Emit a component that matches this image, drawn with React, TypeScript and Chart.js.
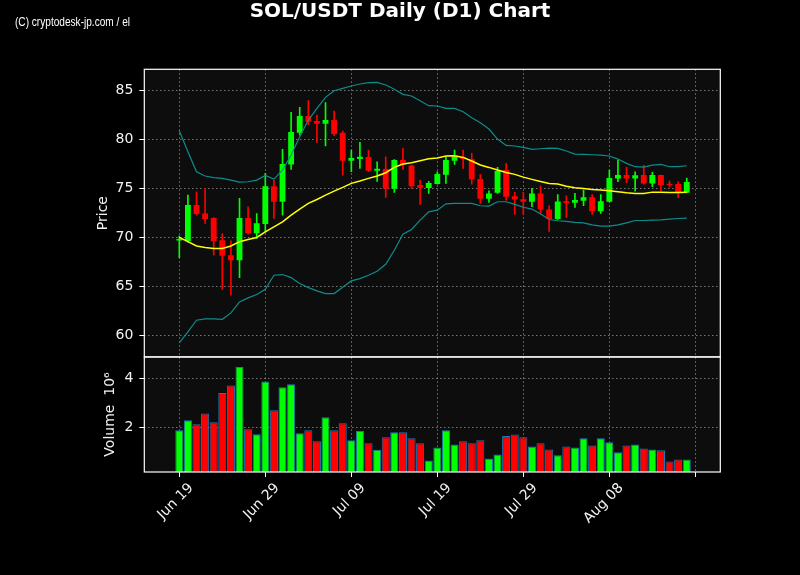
import { useEffect, useRef } from 'react';
import { Chart, registerables } from 'chart.js';

Chart.register(...registerables);

const TITLE = 'SOL/USDT Daily (D1) Chart';
const CREDIT = '(C) cryptodesk-jp.com / el';

// one tick every 10 days, starting Jun 19 (day 0); the last tick has no label
const TICK_LABELS = ['Jun 19', 'Jun 29', 'Jul 09', 'Jul 19', 'Jul 29', 'Aug 08', ''];

// daily candles Jun 19 .. Aug 17
const OPEN = [
  69.65, 69.59, 73.27, 72.41, 71.94, 69.69, 68.16, 67.65, 71.94, 70.41,
  71.33, 75.2, 73.61, 77.4, 80.65, 82.35, 81.84, 81.56, 81.94, 80.65,
  77.79, 77.96, 78.16, 76.77, 76.94, 74.93, 77.86, 77.31, 75.31, 75.0,
  75.41, 76.36, 77.79, 78.2, 77.93, 75.92, 73.91, 74.52, 76.84, 74.18,
  73.87, 73.61, 74.46, 72.82, 71.84, 73.67, 73.5, 73.71, 74.08, 72.65,
  73.61, 75.99, 76.33, 75.99, 76.33, 75.48, 76.33, 75.44, 75.41, 74.52,
];
const HIGH = [
  70.1, 74.29, 74.63, 74.97, 72.0, 70.37, 69.63, 73.95, 73.1, 72.41,
  76.5, 75.82, 78.95, 82.72, 83.23, 83.91, 82.45, 83.71, 82.86, 80.8,
  78.88, 79.66, 78.88, 77.69, 78.2, 77.9, 79.05, 77.35, 75.82, 75.7,
  76.67, 78.2, 78.88, 78.88, 78.54, 76.4, 74.73, 77.11, 77.52, 74.56,
  74.56, 74.97, 75.24, 73.2, 74.35, 74.22, 74.46, 74.8, 74.35, 74.35,
  76.84, 77.86, 77.11, 76.67, 77.31, 76.6, 76.33, 75.72, 75.65, 76.02,
];
const LOW = [
  67.9, 69.5, 72.24, 71.39, 68.16, 64.66, 64.08, 65.88, 70.3, 69.86,
  70.54, 71.9, 72.24, 76.9, 80.4, 81.43, 79.66, 79.29, 80.34, 76.33,
  76.67, 77.0, 76.67, 75.68, 74.05, 74.56, 76.9, 74.97, 73.34, 74.46,
  75.4, 75.48, 77.41, 77.0, 75.41, 73.44, 73.54, 74.46, 73.78, 72.31,
  72.31, 73.1, 72.41, 70.58, 71.8, 72.0, 73.03, 73.2, 72.31, 72.41,
  73.6, 75.65, 75.55, 74.69, 75.41, 75.14, 74.73, 75.1, 74.02, 74.5,
];
const CLOSE = [
  69.8, 73.27, 72.35, 71.84, 69.59, 68.1, 67.65, 71.94, 70.41, 71.43,
  75.2, 73.61, 77.45, 80.71, 82.35, 81.77, 81.56, 81.94, 80.51, 77.79,
  78.06, 78.2, 76.77, 76.97, 74.93, 77.86, 77.38, 75.2, 75.03, 75.51,
  76.43, 77.86, 78.2, 77.93, 75.89, 73.91, 74.46, 76.74, 74.12, 73.84,
  73.61, 74.46, 72.82, 71.84, 73.64, 73.47, 73.78, 74.08, 72.65, 73.67,
  76.02, 76.33, 75.99, 76.3, 75.48, 76.33, 75.31, 75.31, 74.59, 75.61,
];
// volume in millions
const VOLUME = [
  1.88, 2.28, 2.12, 2.56, 2.2, 3.39, 3.7, 4.45, 1.92, 1.72,
  3.86, 2.69, 3.63, 3.75, 1.76, 1.88, 1.43, 2.41, 1.88, 2.16,
  1.47, 1.86, 1.35, 1.09, 1.59, 1.8, 1.8, 1.55, 1.35, 0.65,
  1.18, 1.88, 1.3, 1.43, 1.35, 1.47, 0.73, 0.89, 1.64, 1.71,
  1.59, 1.22, 1.35, 1.1, 0.86, 1.22, 1.18, 1.55, 1.26, 1.55,
  1.39, 0.98, 1.26, 1.3, 1.14, 1.1, 1.06, 0.61, 0.69, 0.69,
];
const SMA = [
  69.97, 69.54, 69.1, 68.95, 68.85, 68.85, 69.1, 69.54, 69.76, 69.97,
  70.54, 71.05, 71.56, 72.24, 72.86, 73.44, 73.84, 74.29, 74.69, 75.07,
  75.48, 75.72, 75.99, 76.23, 76.57, 77.11, 77.45, 77.59, 77.79, 77.99,
  78.06, 78.27, 78.3, 78.13, 77.76, 77.35, 77.11, 76.84, 76.6, 76.4,
  76.12, 75.89, 75.68, 75.48, 75.41, 75.2, 75.03, 74.97, 74.86, 74.8,
  74.73, 74.63, 74.52, 74.46, 74.46, 74.59, 74.59, 74.56, 74.56, 74.59,
];
const BB_UPPER = [
  80.85, 78.71, 76.67, 76.23, 76.06, 75.99, 75.82, 75.61, 75.65, 75.82,
  76.3, 75.92, 76.84, 78.37, 80.24, 81.94, 83.13, 84.25, 84.93, 85.17,
  85.41, 85.61, 85.75, 85.78, 85.51, 85.07, 84.56, 84.39, 83.91, 83.4,
  83.37, 83.13, 83.13, 82.79, 82.18, 81.67, 81.02, 80.0, 79.35, 79.29,
  79.15, 78.95, 79.01, 79.08, 79.05, 78.78, 78.47, 78.44, 78.4, 78.37,
  78.27, 77.96, 77.52, 77.18, 77.14, 77.35, 77.41, 77.18, 77.18, 77.28,
];
const BB_LOWER = [
  59.22, 60.34, 61.53, 61.67, 61.67, 61.63, 62.28, 63.4, 63.81, 64.15,
  64.69, 66.12, 66.19, 65.88, 65.27, 64.86, 64.52, 64.25, 64.25, 64.9,
  65.54, 65.78, 66.12, 66.53, 67.24, 68.67, 70.3, 70.78, 71.73, 72.58,
  72.75, 73.4, 73.44, 73.44, 73.44, 73.2, 73.17, 73.61, 73.61, 73.34,
  73.05, 72.86, 72.35, 71.8, 71.67, 71.6, 71.5, 71.46, 71.26, 71.12,
  71.12, 71.26, 71.46, 71.7, 71.7, 71.73, 71.77, 71.84, 71.9, 71.94,
];

const PRICE_TICKS = [60, 65, 70, 75, 80, 85];
const VOLUME_TICKS = [2, 4];
const DAY_TICKS = [0, 10, 20, 30, 40, 50, 60];

const UP = '#00ff00';
const DOWN = '#ff0000';
const BAND = '#0e8c8c';
const GRID = 'rgba(190,190,190,0.75)';
const TEXT = '#f2f2f2';

Chart.defaults.font.family = '"DejaVu Sans", sans-serif';

const gridOpts = {
  color: GRID,
  lineWidth: 0.8,
  drawTicks: true,
  tickLength: 5,
  tickColor: '#ffffff',
  tickWidth: 1,
  tickBorderDash: [],
  offset: false,
};

const panels = {
  id: 'panels',
  beforeDraw(chart: Chart) {
    const { ctx, chartArea } = chart;
    ctx.save();
    ctx.fillStyle = '#000';
    ctx.fillRect(0, 0, chart.width, chart.height);
    ctx.fillStyle = '#0d0d0d';
    ctx.fillRect(chartArea.left, chartArea.top, chartArea.width, chartArea.height);
    ctx.restore();
  },
  afterDraw(chart: Chart) {
    const { ctx, chartArea, scales } = chart;
    ctx.save();
    ctx.strokeStyle = '#ffffff';
    ctx.lineWidth = 1.2;
    ctx.setLineDash([]);
    for (const id of ['y', 'yv']) {
      const s = scales[id];
      ctx.strokeRect(chartArea.left, s.top, chartArea.width, s.bottom - s.top);
    }
    ctx.fillStyle = '#ffffff';
    ctx.textAlign = 'center';
    ctx.textBaseline = 'alphabetic';
    ctx.font = 'bold 20px "DejaVu Sans"';
    ctx.fillText(TITLE, 400, 17);
    ctx.textAlign = 'left';
    ctx.font = '12px "Liberation Sans"';
    ctx.fillText(CREDIT, 15, 25.5, 115);
    ctx.restore();
  },
};

export default function App() {
  const canvasRef = useRef<HTMLCanvasElement>(null);

  useEffect(() => {
    if (!canvasRef.current) return;
    const days = OPEN.map((_, i) => i);
    const colors = days.map((i) => (CLOSE[i] >= OPEN[i] ? UP : DOWN));
    const line = (data: number[], color: string, width: number) => ({
      type: 'line' as const,
      data: days.map((i) => ({ x: i, y: data[i] })),
      borderColor: color,
      borderWidth: width,
      pointRadius: 0,
      tension: 0,
      yAxisID: 'y',
      order: 0,
    });

    const chart = new Chart(canvasRef.current, {
      type: 'bar',
      data: {
        datasets: [
          line(SMA, '#ffff00', 1.5),
          line(BB_UPPER, BAND, 1.2),
          line(BB_LOWER, BAND, 1.2),
          {
            type: 'bar',
            data: days.map((i) => ({ x: i, y: [LOW[i], HIGH[i]] })),
            backgroundColor: colors,
            barThickness: 1,
            grouped: false,
            yAxisID: 'y',
            order: 2,
          },
          {
            type: 'bar',
            data: days.map((i) => ({ x: i, y: [OPEN[i], CLOSE[i]] })),
            backgroundColor: colors,
            barPercentage: 0.85,
            categoryPercentage: 0.8,
            minBarLength: 1,
            grouped: false,
            yAxisID: 'y',
            order: 1,
          },
          {
            type: 'bar',
            data: days.map((i) => ({ x: i, y: VOLUME[i] })),
            backgroundColor: colors,
            borderColor: '#1f77b4',
            borderWidth: 1,
            barPercentage: 1,
            categoryPercentage: 0.94,
            grouped: false,
            yAxisID: 'yv',
            order: 1,
          },
        ] as any,
      },
      options: {
        responsive: false,
        animation: false,
        events: [],
        layout: { padding: { top: 69.3, right: 79.7, left: 0, bottom: 0 } },
        plugins: { legend: { display: false }, tooltip: { enabled: false } },
        scales: {
          x: {
            type: 'linear',
            offset: false,
            min: -4.07,
            max: 62.9,
            afterBuildTicks: (s: any) => {
              s.ticks = DAY_TICKS.map((v) => ({ value: v }));
            },
            afterFit: (s: any) => {
              s.height = 103;
            },
            grid: gridOpts,
            border: { display: false, dash: [1.5, 2.5] },
            ticks: {
              autoSkip: false,
              minRotation: 45,
              maxRotation: 45,
              labelOffset: 12,
              padding: 3,
              color: TEXT,
              font: { size: 14 },
              callback: (_v: any, i: number) => TICK_LABELS[i] ?? '',
            },
          },
          y: {
            type: 'linear',
            position: 'left',
            stack: 'panels',
            stackWeight: 5,
            weight: 1,
            min: 57.79,
            max: 87.11,
            afterBuildTicks: (s: any) => {
              s.ticks = PRICE_TICKS.map((v) => ({ value: v }));
            },
            afterFit: (s: any) => {
              s.width = 144.3;
            },
            grid: gridOpts,
            border: { display: false, dash: [1.5, 2.5] },
            ticks: { color: TEXT, font: { size: 14 }, padding: 6 },
            title: {
              display: true,
              text: 'Price',
              color: TEXT,
              font: { size: 14 },
              padding: { top: 94.6, bottom: 0 },
            },
          },
          yv: {
            type: 'linear',
            position: 'left',
            stack: 'panels',
            stackWeight: 2,
            weight: 0,
            min: 0.18,
            max: 4.86,
            afterBuildTicks: (s: any) => {
              s.ticks = VOLUME_TICKS.map((v) => ({ value: v }));
            },
            afterFit: (s: any) => {
              s.width = 144.3;
            },
            grid: gridOpts,
            border: { display: false, dash: [1.5, 2.5] },
            ticks: { color: TEXT, font: { size: 14 }, padding: 6 },
            title: {
              display: true,
              text: 'Volume  10⁶',
              color: TEXT,
              font: { size: 14 },
              padding: { top: 102, bottom: 0 },
            },
          },
        },
      },
      plugins: [panels],
    });

    return () => chart.destroy();
  }, []);

  return (
    <div style={{ position: 'fixed', left: 0, top: 0, width: 800, height: 575, background: '#000' }}>
      <canvas ref={canvasRef} width={800} height={575} style={{ display: 'block' }} />
    </div>
  );
}
